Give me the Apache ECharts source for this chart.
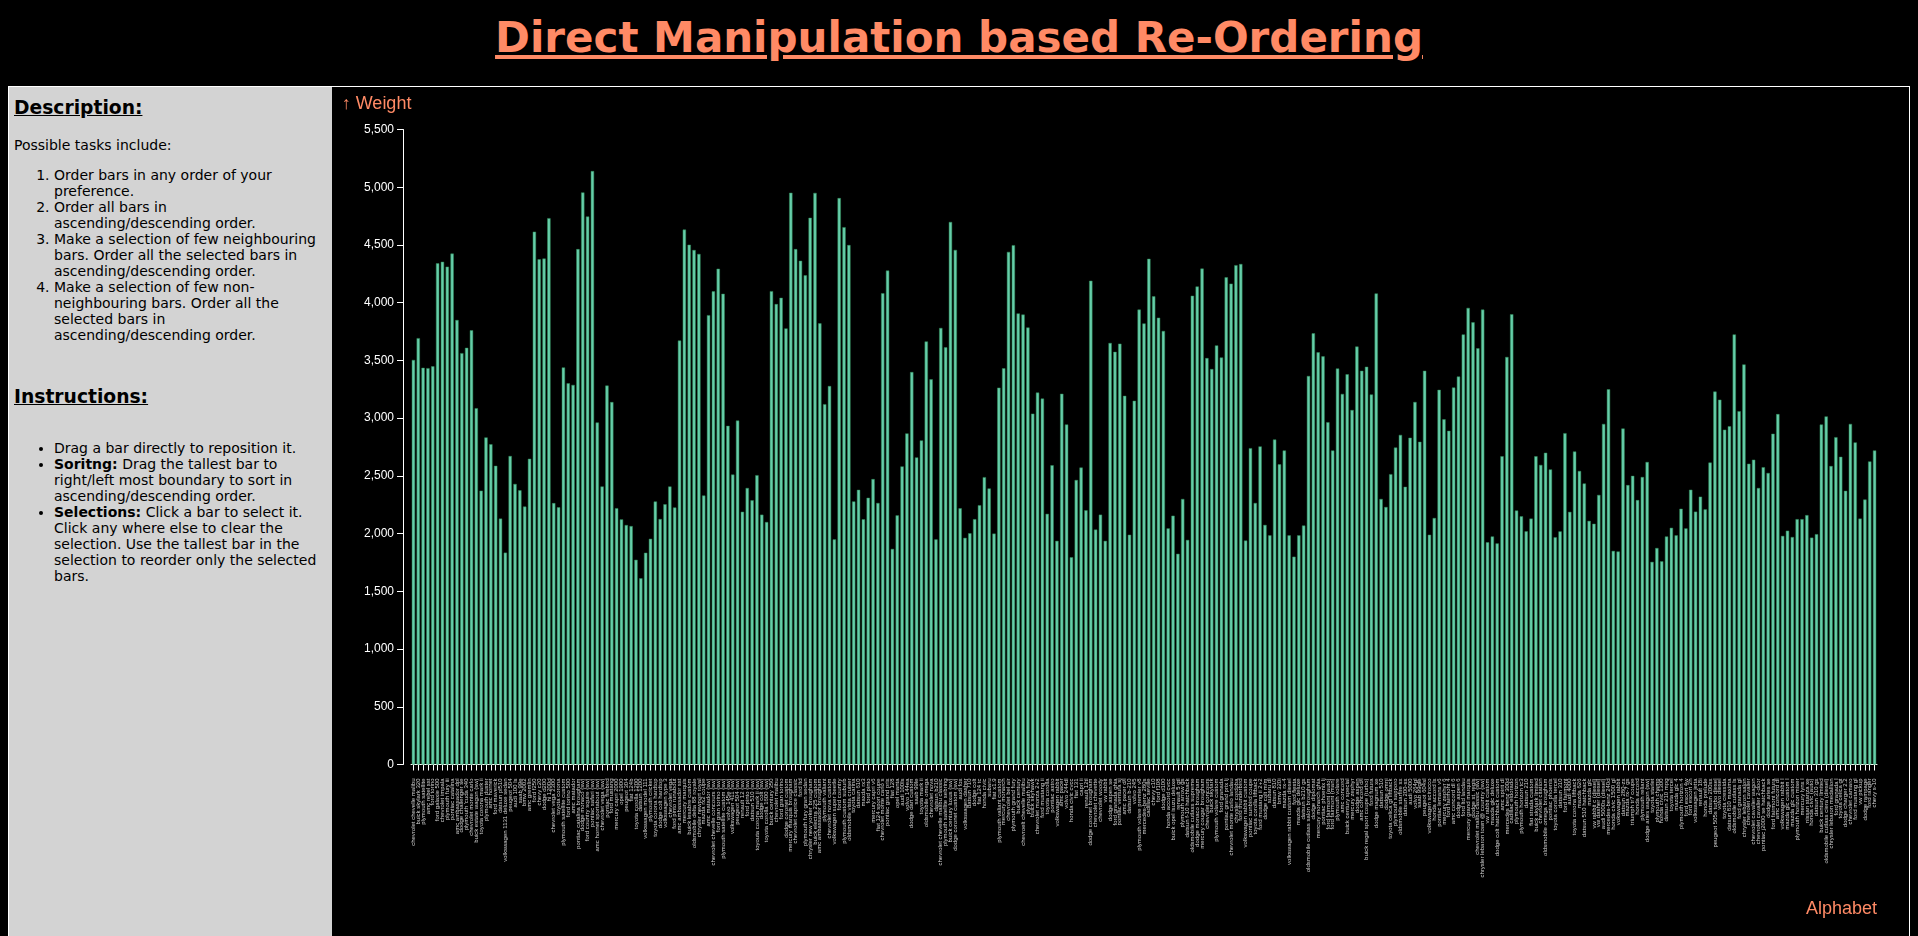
<!DOCTYPE html>
<html>
<head>
<meta charset="utf-8">
<script src="https://cdn.jsdelivr.net/npm/echarts@6/dist/echarts.min.js"></script>
<style>
  html, body { margin:0; padding:0; background:#000; width:1918px; height:936px; overflow:hidden; }
  #title { position:absolute; left:0; top:13px; width:1918px; text-align:center; font-family:'DejaVu Sans'; font-weight:bold; font-size:42px; line-height:normal; color:#ff8a65; text-decoration:underline; margin:0; }
  #box { position:absolute; left:8px; top:86px; width:1902px; height:900px; border:1px solid #fff; box-sizing:border-box; }
  #panel { position:absolute; left:9px; top:87px; width:323px; height:849px; background:#d3d3d3; font-family:'DejaVu Sans'; font-size:14px; line-height:16px; color:#000; }
  #panel h3 { position:absolute; left:5px; margin:0; font-size:18.72px; font-weight:bold; text-decoration:underline; line-height:normal; }
  #panel p { position:absolute; left:5px; margin:0; }
  #panel ol, #panel ul { position:absolute; left:5px; width:266px; margin:0; padding-left:40px; }
  #chart { position:absolute; left:332px; top:87px; width:1577px; height:849px; }
</style>
</head>
<body>
<div id="title">Direct Manipulation based Re-Ordering</div>
<div id="box"></div>
<div id="panel">
  <h3 style="top:10px">Description:</h3>
  <p style="top:50px">Possible tasks include:</p>
  <ol style="top:80px">
    <li>Order bars in any order of your preference.</li>
    <li>Order all bars in ascending/descending order.</li>
    <li>Make a selection of few neighbouring bars. Order all the selected bars in ascending/descending order.</li>
    <li>Make a selection of few non-neighbouring bars. Order all the selected bars in ascending/descending order.</li>
  </ol>
  <h3 style="top:299px">Instructions:</h3>
  <ul style="top:353px">
    <li>Drag a bar directly to reposition it.</li>
    <li><b>Soritng:</b> Drag the tallest bar to right/left most boundary to sort in ascending/descending order.</li>
    <li><b>Selections:</b> Click a bar to select it. Click any where else to clear the selection. Use the tallest bar in the selection to reorder only the selected bars.</li>
  </ul>
</div>
<div id="chart"></div>
<script>
const names = [
"chevrolet chevelle malibu","buick skylark 320","plymouth satellite","amc rebel sst","ford torino","ford galaxie 500","chevrolet impala","plymouth fury iii","pontiac catalina","amc ambassador dpl",
"dodge challenger se","plymouth 'cuda 340","chevrolet monte carlo","buick estate wagon (sw)","toyota corona mark ii","plymouth duster","amc hornet","ford maverick","datsun pl510","volkswagen 1131 deluxe sedan",
"peugeot 504","audi 100 ls","saab 99e","bmw 2002","amc gremlin","ford f250","chevy c20","dodge d200","hi 1200d","chevrolet vega 2300",
"toyota corona","plymouth satellite custom","ford torino 500","amc matador","pontiac catalina brougham","dodge monaco (sw)","ford country squire (sw)","pontiac safari (sw)","amc hornet sportabout (sw)","chevrolet vega (sw)",
"pontiac firebird","ford mustang","mercury capri 2000","opel 1900","peugeot 304","fiat 124b","toyota corolla 1200","datsun 1200","volkswagen model 111","plymouth cricket",
"toyota corona hardtop","dodge colt hardtop","volkswagen type 3","chevrolet vega","ford pinto runabout","amc ambassador sst","mercury marquis","buick lesabre custom","oldsmobile delta 88 royale","chrysler newport royal",
"mazda rx2 coupe","amc matador (sw)","chevrolet chevelle concours (sw)","ford gran torino (sw)","plymouth satellite custom (sw)","volvo 145e (sw)","volkswagen 411 (sw)","peugeot 504 (sw)","renault 12 (sw)","ford pinto (sw)",
"datsun 510 (sw)","toyouta corona mark ii (sw)","dodge colt (sw)","toyota corolla 1600 (sw)",
"buick century 350","chevrolet malibu","ford gran torino","dodge coronet custom","mercury marquis brougham","chevrolet caprice classic",
"ford ltd","plymouth fury gran sedan","chrysler new yorker brougham","buick electra 225 custom","amc ambassador brougham","plymouth valiant","chevrolet nova custom","volkswagen super beetle","ford country","plymouth custom suburb",
"oldsmobile vista cruiser","toyota carina","datsun 610","maxda rx3","ford pinto","mercury capri v6","fiat 124 sport coupe","chevrolet monte carlo s","pontiac grand prix","fiat 128",
"opel manta","audi 100ls","volvo 144ea","dodge dart custom","saab 99le","toyota mark ii","oldsmobile omega",
"chevrolet nova","datsun b210","chevrolet chevelle malibu classic","plymouth satellite sebring","buick century luxus (sw)","dodge coronet custom (sw)","audi fox","volkswagen dasher","datsun 710","dodge colt","fiat 124 tc","honda civic","subaru","fiat x1.9",
"plymouth valiant custom","mercury monarch","chevrolet bel air","plymouth grand fury","buick century","chevroelt chevelle malibu","plymouth fury","buick skyhawk","chevrolet monza 2+2","ford mustang ii","toyota corolla","pontiac astro","volkswagen rabbit","amc pacer","volvo 244dl","honda civic cvcc",
"fiat 131","capri ii","renault 12tl","dodge coronet brougham","chevrolet chevette","chevrolet woody","vw rabbit","dodge aspen se","ford granada ghia","pontiac ventura sj","amc pacer d/l","datsun b-210","volvo 245","plymouth volare premier v8","mercedes-benz 280s","cadillac seville","chevy c10","ford f108","dodge d100",
"honda accord cvcc","buick opel isuzu deluxe","renault 5 gtl","plymouth arrow gs","datsun f-10 hatchback","oldsmobile cutlass supreme","dodge monaco brougham","mercury cougar brougham","chevrolet concours","buick skylark","plymouth volare custom","ford granada","pontiac grand prix lj","chevrolet monte carlo landau","chrysler cordoba","ford thunderbird","volkswagen rabbit custom","pontiac sunbird coupe","toyota corolla liftback","ford mustang ii 2+2","dodge colt m/m","subaru dl","datsun 810","bmw 320i","mazda rx-4",
"volkswagen rabbit custom diesel","ford fiesta","mazda glc deluxe","datsun b210 gx","oldsmobile cutlass salon brougham","dodge diplomat","mercury monarch ghia","pontiac phoenix lj","ford fairmont (auto)","ford fairmont (man)","plymouth volare","amc concord","buick century special","mercury zephyr","dodge aspen","amc concord d/l","buick regal sport coupe (turbo)","ford futura","dodge magnum xe","datsun 510","dodge omni","toyota celica gt liftback","plymouth sapporo","oldsmobile starfire sx","datsun 200-sx","audi 5000","volvo 264gl","saab 99gle","peugeot 604sl","volkswagen scirocco","honda accord lx",
"pontiac lemans v6","mercury zephyr 6","ford fairmont 4","amc concord dl 6","dodge aspen 6","ford ltd landau","mercury grand marquis","dodge st. regis","chevrolet malibu classic (sw)","chrysler lebaron town @ country (sw)","vw rabbit custom","maxda glc deluxe","dodge colt hatchback custom","amc spirit dl","mercedes benz 300d","cadillac eldorado","plymouth horizon","plymouth horizon tc3","datsun 210","fiat strada custom","buick skylark limited","chevrolet citation","oldsmobile omega brougham","pontiac phoenix",
"toyota corolla tercel","datsun 310","ford fairmont","audi 4000","toyota corona liftback","mazda 626","datsun 510 hatchback","mazda glc","vw rabbit c (diesel)","vw dasher (diesel)","audi 5000s (diesel)","mercedes-benz 240d","honda civic 1500 gl","vokswagen rabbit","datsun 280-zx","mazda rx-7 gs","triumph tr7 coupe","honda accord",
"plymouth reliant","dodge aries wagon (sw)","toyota starlet","plymouth champ","honda civic 1300","datsun 210 mpg","toyota tercel","mazda glc 4","plymouth horizon 4","ford escort 4w","ford escort 2h","volkswagen jetta","renault 18i","honda prelude","datsun 200sx","peugeot 505s turbo diesel","volvo diesel","toyota cressida","datsun 810 maxima","oldsmobile cutlass ls","ford granada gl","chrysler lebaron salon",
"chevrolet cavalier","chevrolet cavalier wagon","chevrolet cavalier 2-door","pontiac j2000 se hatchback","dodge aries se","ford fairmont futura","amc concord dl","volkswagen rabbit l","mazda glc custom l","mazda glc custom","plymouth horizon miser","mercury lynx l","nissan stanza xe","honda civic (auto)","datsun 310 gx","buick century limited","oldsmobile cutlass ciera (diesel)","chrysler lebaron medallion","ford granada l","toyota celica gt","dodge charger 2.2","chevrolet camaro","ford mustang gl","vw pickup","dodge rampage","ford ranger","chevy s-10"
];
const weights = [
3504,3693,3436,3433,3449,4341,4354,4312,4425,3850,
3563,3609,3761,3086,2372,2833,2774,2587,2130,1835,
2672,2430,2375,2234,2648,4615,4376,4382,4732,2264,
2228,3439,3302,3288,4464,4955,4746,5140,2962,2408,
3282,3139,2220,2123,2074,2065,1773,1613,1834,1955,
2278,2126,2254,2408,2226,3672,4633,4502,4456,4422,
2330,3892,4098,4294,4077,2933,2511,2979,2189,2395,
2288,2506,2164,2100,
4100,3988,4042,3777,4952,4464,
4363,4237,4735,4951,3821,3121,3278,1950,4906,4654,
4499,2279,2379,2124,2310,2472,2265,4082,4278,1867,
2158,2582,2868,3399,2660,2807,3664,
3336,1950,3781,3613,4699,4457,2219,1963,2003,2125,2246,2489,2391,2000,
3264,3432,4440,4498,3907,3897,3785,3039,3221,3169,2171,2592,1937,3211,2945,1795,
2464,2572,2202,4190,2035,2164,1937,3651,3574,3645,3193,1990,3150,3940,3820,4380,4055,3870,3755,
2045,2155,1825,2300,1945,4060,4140,4295,3520,3425,3630,3525,4220,4165,4325,4335,1940,2740,2265,2755,2075,1985,2815,2600,2720,
1985,1800,1985,2070,3365,3735,3570,3535,2965,2720,3430,3210,3380,3070,3620,3410,3445,3205,4080,2300,2230,2515,2745,2855,2405,2830,3140,2795,3410,1990,2135,
3245,2990,2890,3265,3360,3725,3955,3830,3605,3940,1925,1975,1915,2670,3530,3900,2200,2150,2020,2130,2670,2595,2700,2556,
1968,2019,2870,2188,2711,2542,2434,2110,2085,2335,2950,3250,1850,1845,2910,2420,2500,2290,
2490,2620,1755,1875,1760,1975,2050,1985,2215,2045,2380,2190,2320,2210,2615,3230,3160,2900,2930,3725,3060,3465,
2605,2640,2395,2575,2525,2865,3035,1980,2025,1970,2125,2125,2160,1965,1995,2945,3015,2585,2835,2665,2370,2950,2790,2130,2295,2625,2720
];
const yAxisName = "↑ Weight";
const xAxisName = "Alphabet";
const accent = "#ff8a65";

const chart = echarts.init(document.getElementById('chart'), null, {renderer:'canvas'});
chart.setOption({
  backgroundColor: '#000',
  animation: false,
  grid: { left: 79, right: 32, top: 42.5, bottom: 171.5, containLabel: false, outerBoundsMode: 'none' },
  xAxis: {
    type: 'category',
    data: names,
    offset: 4,
    axisLine: { show: true, lineStyle: { color: '#ffffff', width: 1 } },
    axisTick: { show: true, alignWithLabel: true, interval: 0, length: 6, lineStyle: { color: '#ffffff' } },
    axisLabel: { interval: 0, rotate: 90, fontSize: 6, color: '#d2d2d2', margin: 10, fontFamily: 'Liberation Sans', hideOverlap: false }
  },
  yAxis: {
    type: 'value',
    min: 0, max: 5500, interval: 500,
    offset: 8,
    axisLine: { show: true, lineStyle: { color: '#ffffff', width: 1 } },
    axisTick: { show: true, length: 6, lineStyle: { color: '#ffffff' } },
    splitLine: { show: false },
    axisLabel: { color: '#ffffff', fontSize: 12, fontFamily: 'Liberation Sans', margin: 9,
      formatter: v => v.toLocaleString('en-US') }
  },
  series: [{
    type: 'bar',
    data: weights,
    barCategoryGap: '32%',
    itemStyle: { color: '#66cdaa', borderColor: '#2e8b57', borderWidth: 0.5 }
  }],
  graphic: [
    { type: 'text', x: 9.7, y: 17, style: { text: yAxisName, fill: accent, font: '18px "Liberation Sans"', textAlign: 'left', textVerticalAlign: 'middle' } },
    { type: 'text', x: 1545, y: 822, style: { text: xAxisName, fill: accent, font: '18px "Liberation Sans"', textAlign: 'right', textVerticalAlign: 'middle' } }
  ]
});
</script>
</body>
</html>
